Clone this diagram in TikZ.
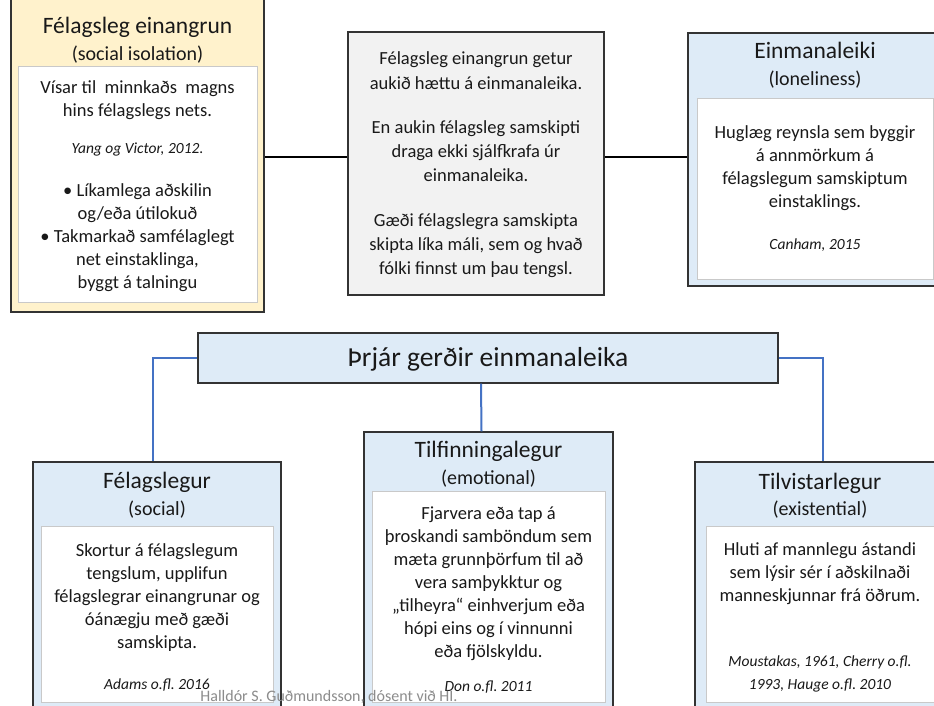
\documentclass[tikz,border=0pt]{standalone}
\usepackage{fontspec}
\setmainfont{Carlito}
\usetikzlibrary{calc, positioning}
\frenchspacing

\definecolor{isoyellow}{HTML}{FFF2CC}
\definecolor{midgray}{HTML}{F2F2F2}
\definecolor{typeblue}{HTML}{DEEBF7}
\definecolor{linkblue}{HTML}{4472C4}
\definecolor{innerline}{HTML}{C9C9C9}
\definecolor{footgray}{HTML}{8C8C8C}

\newcommand{\srcref}[1]{{\fontsize{15.5}{18}\selectfont\itshape #1}}

\tikzset{
	outerbox/.style={draw=black!80, line width=1.4pt, inner sep=0pt},
	innerbox/.style={draw=innerline, line width=0.9pt, fill=white, inner sep=0pt},
	headtext/.style={font=\fontsize{23.5}{28}\selectfont, text=black!90, inner sep=0pt, yshift=-2.5pt},
	subtext/.style={font=\fontsize{20}{24}\selectfont, text=black!90, inner sep=0pt, yshift=-2.5pt},
	bodytext/.style={font=\fontsize{18.5}{23}\selectfont, text=black!90, align=center, inner sep=0pt, yshift=-3.5pt},
	blackline/.style={draw=black, line width=2pt},
	blueline/.style={draw=linkblue, line width=2pt},
}

\begin{document}
\begin{tikzpicture}[x=1pt, y=-1pt]
	\fill[white] (0,0) rectangle (934,706);
	\useasboundingbox (0,0) rectangle (934,706);
	\clip (0,0) rectangle (934,706);

	% top row
	\node[outerbox, fill=isoyellow, minimum width=253pt, minimum height=320pt] (iso) at (137.5,152) {};
	\node[outerbox, fill=midgray, minimum width=256pt, minimum height=263pt] (mid) at (476,163.5) {};
	\node[outerbox, fill=typeblue, minimum width=254pt, minimum height=253pt] (lone) at (815,159.5) {};

	\node[headtext] (isoT) at (137.5,25) {Félagsleg einangrun};
	\node[subtext] (isoS) at (137.5,52) {(social isolation)};
	\node[innerbox, minimum width=239pt, minimum height=236pt] (isoIn) at (137.5,184) {};
	\node[bodytext] (isoTxt) at (137.5,182.5) {Vísar til\ \ minnkaðs\ \ magns\\ hins félagslegs nets.\\[14pt] \srcref{Yang og Victor, 2012.}\\[20pt] • Líkamlega aðskilin\\ og/eða útilokuð\\ • Takmarkað samfélaglegt\\ net einstaklinga,\\ byggt á talningu};

	\node[bodytext, font=\fontsize{18.5}{24.3}\selectfont] (midTxt) at (476,161.5) {Félagsleg einangrun getur\\ aukið hættu á einmanaleika.\\[20pt] En aukin félagsleg samskipti\\ draga ekki sjálfkrafa úr\\ einmanaleika.\\[20pt] Gæði félagslegra samskipta\\ skipta líka máli, sem og hvað\\ fólki finnst um þau tengsl.};

	\node[headtext] (loneT) at (815,48) {Einmanaleiki};
	\node[subtext] (loneS) at (815,77) {(loneliness)};
	\node[innerbox, minimum width=236pt, minimum height=181pt] (loneIn) at (815,188.5) {};
	\node[bodytext] (loneTxt) at (815,185.5) {Huglæg reynsla sem byggir\\ á annmörkum á\\ félagslegum samskiptum\\ einstaklings.\\[19pt] \srcref{Canham, 2015}};

	\coordinate (joinY) at (0,157);
	\draw[blackline] (iso.east |- joinY) -- (mid.west |- joinY);
	\draw[blackline] (mid.east |- joinY) -- (lone.west |- joinY);

	% three types
	\node[outerbox, fill=typeblue, minimum width=580pt, minimum height=50pt] (types) at (488,358) {};
	\node[font=\fontsize{27.5}{33}\selectfont, text=black!90, inner sep=0pt, yshift=-1.5pt] (typesT) at (types) {Þrjár gerðir einmanaleika};

	\node[outerbox, fill=typeblue, minimum width=248pt, minimum height=300pt] (social) at (157,612) {};
	\node[outerbox, fill=typeblue, minimum width=249pt, minimum height=330pt] (emo) at (488.5,597) {};
	\node[outerbox, fill=typeblue, minimum width=250pt, minimum height=300pt] (exist) at (820,612) {};

	\draw[blueline] (types.west) -| ([xshift=-4pt]social.north);
	\draw[blueline] ([xshift=-7pt]types.south) -- ([xshift=-7pt]emo.north);
	\draw[blueline] (types.east) -| ([xshift=3pt]exist.north);

	\node[headtext] (socialT) at (157,480) {Félagslegur};
	\node[subtext] (socialS) at (157,507) {(social)};
	\node[innerbox, minimum width=232pt, minimum height=176pt] (socialIn) at (157,614) {};
	\node[bodytext] (socialTxt) at (157,613.5) {Skortur á félagslegum\\ tengslum, upplifun\\ félagslegrar einangrunar og\\ óánægju með gæði\\ samskipta.\\[18pt] \srcref{Adams o.fl. 2016}};

	\node[headtext] (emoT) at (488.5,449) {Tilfinningalegur};
	\node[subtext] (emoS) at (488.5,476) {(emotional)};
	\node[innerbox, minimum width=233pt, minimum height=211pt] (emoIn) at (488.5,596.5) {};
	\node[bodytext] (emoTxt) at (488.5,597) {Fjarvera eða tap á\\ þroskandi samböndum sem\\ mæta grunnþörfum til að\\ vera samþykktur og\\ „tilheyra“ einhverjum eða\\ hópi eins og í vinnunni\\ eða fjölskyldu.\\[11pt] \srcref{Don o.fl. 2011}};

	\node[headtext] (existT) at (820,481) {Tilvistarlegur};
	\node[subtext] (existS) at (820,507) {(existential)};
	\node[innerbox, minimum width=228pt, minimum height=176pt] (existIn) at (820,614) {};
	\node[bodytext] (existTxt) at (820,614) {Hluti af mannlegu ástandi\\ sem lýsir sér í aðskilnaði\\ manneskjunnar frá öðrum.\\[42pt] \srcref{Moustakas, 1961, Cherry o.fl.}\\ \srcref{1993, Hauge o.fl. 2010}};

	\node[font=\fontsize{16}{19}\selectfont, text=footgray, inner sep=0pt] (credit) at (329,697) {Halldór S. Guðmundsson, dósent við HI.};
\end{tikzpicture}
\end{document}
